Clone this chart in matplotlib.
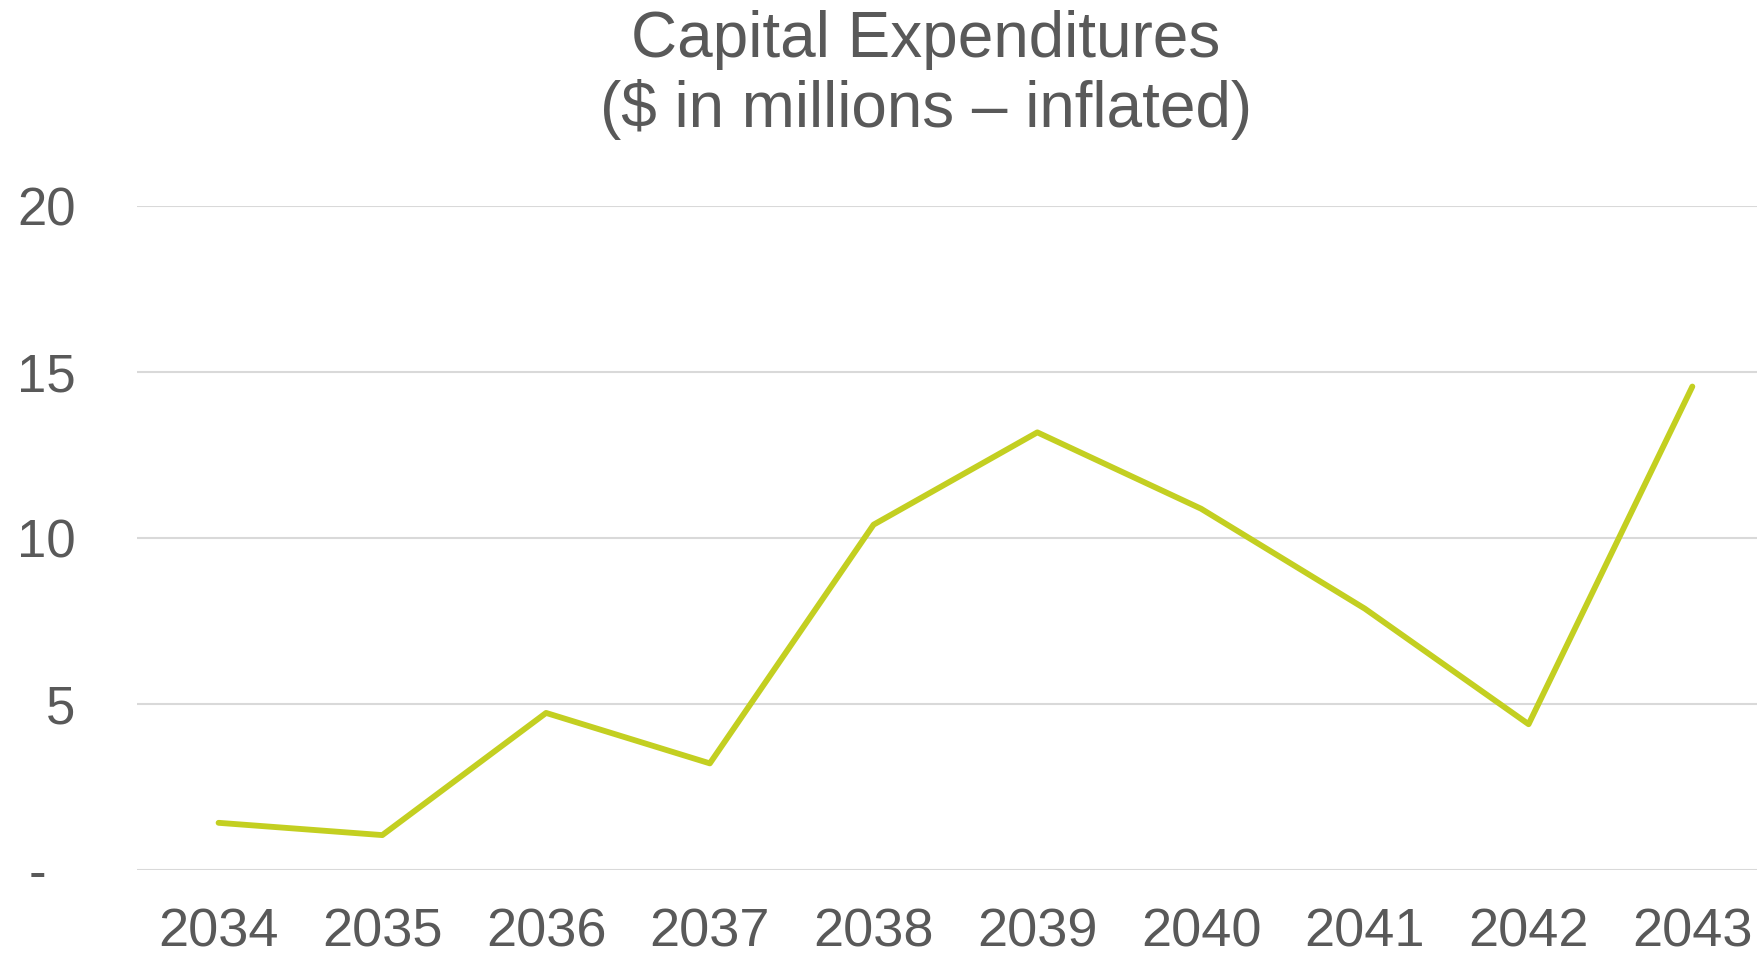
import matplotlib
matplotlib.use("Agg")
import matplotlib.pyplot as plt

# data
years = ["2034", "2035", "2036", "2037", "2038", "2039", "2040", "2041", "2042", "2043"]
capex = [1.42, 1.05, 4.73, 3.21, 10.40, 13.18, 10.88, 7.87, 4.39, 14.56]
y_ticks = [0, 5, 10, 15, 20]
y_labels = ["-  ", "5", "10", "15", "20"]

text_col = "#595959"
line_col = "#C3CF21"
grid_col = "#D9D9D9"

plt.rcParams["font.family"] = ["Liberation Sans", "DejaVu Sans"]

fig = plt.figure(figsize=(17.57, 9.56), dpi=100)
ax = fig.add_axes([0.0778, 0.09, 0.932, 0.6946])

x = list(range(len(years)))
ax.plot(x, capex, color=line_col, lw=4.2, solid_capstyle="round")

ax.set_xlim(-0.5, len(years) - 0.5)
ax.set_ylim(0, 20)
ax.set_xticks(x)
ax.set_xticklabels(years)
ax.set_yticks(y_ticks)
ax.set_yticklabels(y_labels)

for v in y_ticks:
    ax.axhline(v, color=grid_col, lw=1.5, zorder=0)

for s in ax.spines.values():
    s.set_visible(False)
ax.tick_params(axis="both", length=0, colors=text_col)
ax.tick_params(axis="x", pad=27, labelsize=39)
ax.tick_params(axis="y", pad=44, labelsize=38)

# two-line title, placed a bit right of the figure centre like the original
fig.text(0.527, 0.99, "Capital Expenditures\n($ in millions \u2013 inflated)",
         ha="center", va="top", fontsize=46, color=text_col, linespacing=1.2)

fig.savefig("out.png", dpi=100)
